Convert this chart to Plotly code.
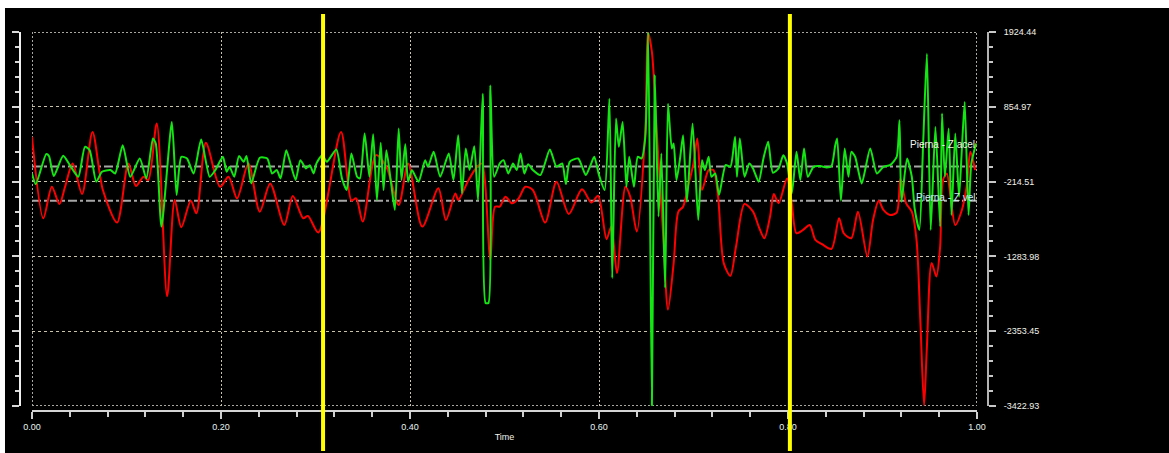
import plotly.graph_objects as go

# Pierna - Z vel (red channel): time and amplitude samples
vel_t = [
    0.000, 0.012, 0.021, 0.029, 0.035, 0.043, 0.053, 0.064, 0.075, 0.090,
    0.102, 0.110, 0.118, 0.123, 0.132, 0.143, 0.151, 0.158, 0.168, 0.174,
    0.184, 0.199, 0.208, 0.217, 0.229, 0.241, 0.252, 0.267, 0.276, 0.287,
    0.292, 0.303, 0.327, 0.338, 0.343, 0.350, 0.364, 0.375, 0.388, 0.398,
    0.413, 0.430, 0.438, 0.448, 0.451, 0.462, 0.471, 0.476, 0.485, 0.490,
    0.495, 0.501, 0.508, 0.515, 0.522, 0.530, 0.543, 0.555, 0.568, 0.582,
    0.592, 0.599, 0.608, 0.613, 0.619, 0.628, 0.633, 0.640, 0.649, 0.652,
    0.656, 0.661, 0.668, 0.673, 0.679, 0.684, 0.689, 0.695, 0.700, 0.704,
    0.709, 0.716, 0.721, 0.726, 0.732, 0.739, 0.745, 0.754, 0.763, 0.769,
    0.775, 0.781, 0.785, 0.790, 0.799, 0.804, 0.809, 0.816, 0.823, 0.829,
    0.836, 0.846, 0.854, 0.859, 0.867, 0.874, 0.884, 0.890, 0.896, 0.901,
    0.908, 0.915, 0.919, 0.925, 0.931, 0.936, 0.940, 0.944, 0.947, 0.952,
    0.957, 0.961, 0.964, 0.968, 0.972, 0.977, 0.984, 0.989, 0.993, 0.998,
]
vel_z = [
    425, -739, -288, -535, -288, 45, -392, 496, -335, -800,
    45, -278, -145, -192, 615, -1855, -478, -867, -487, -668,
    340, -288, -145, -454, 45, -644, -240, -834, -420, -739,
    -705, -943, 496, -487, -454, -786, 164, -3, -549, 45,
    -858, -311, -763, -383, -478, -192, -3, 45, -1333, -573,
    -573, -430, -525, -454, -288, -335, -800, -216, -677, -325,
    -515, -416, -1038, -858, -1522, -288, -430, -929, 520, 1910,
    1636, 520, -1000, -2045, -1380, -644, -573, -240, 45, 401,
    -335, -50, -50, -430, -1380, -1561, -1143, -535, -644, -858,
    -1024, -715, -392, -525, -169, -525, -953, -905, -834, -1048,
    -1109, -1176, -739, -953, -1024, -644, -1285, -763, -487, -620,
    -691, -658, -169, -525, -644, -1048, -2188, -3410, -2568, -1380,
    -1570, -1143, -192, -98, -430, -834, -620, -288, 211, -50,
]

# Pierna - Z acel (green channel): time and amplitude samples
acel_t = [
    0.000, 0.004, 0.015, 0.018, 0.023, 0.033, 0.040, 0.049, 0.056, 0.061,
    0.068, 0.074, 0.083, 0.088, 0.096, 0.104, 0.114, 0.121, 0.128, 0.131,
    0.137, 0.148, 0.153, 0.158, 0.164, 0.171, 0.179, 0.188, 0.194, 0.202,
    0.206, 0.209, 0.214, 0.219, 0.224, 0.227, 0.232, 0.241, 0.249, 0.254,
    0.259, 0.263, 0.269, 0.273, 0.279, 0.284, 0.290, 0.294, 0.298, 0.301,
    0.307, 0.312, 0.322, 0.328, 0.333, 0.338, 0.344, 0.347, 0.352, 0.357,
    0.361, 0.365, 0.369, 0.372, 0.375, 0.380, 0.384, 0.388, 0.391, 0.395,
    0.398, 0.402, 0.409, 0.416, 0.419, 0.425, 0.432, 0.441, 0.446, 0.451,
    0.455, 0.459, 0.463, 0.468, 0.472, 0.477, 0.480, 0.483, 0.485, 0.489,
    0.495, 0.499, 0.504, 0.509, 0.513, 0.517, 0.521, 0.525, 0.530, 0.538,
    0.548, 0.555, 0.561, 0.565, 0.569, 0.578, 0.586, 0.591, 0.595, 0.600,
    0.606, 0.611, 0.614, 0.618, 0.621, 0.625, 0.629, 0.632, 0.637, 0.641,
    0.645, 0.649, 0.652, 0.656, 0.659, 0.663, 0.666, 0.670, 0.673, 0.677,
    0.679, 0.682, 0.686, 0.689, 0.693, 0.699, 0.705, 0.709, 0.712, 0.716,
    0.719, 0.723, 0.727, 0.734, 0.739, 0.744, 0.746, 0.749, 0.754, 0.759,
    0.763, 0.769, 0.774, 0.779, 0.784, 0.790, 0.795, 0.799, 0.804, 0.809,
    0.813, 0.817, 0.821, 0.827, 0.834, 0.841, 0.846, 0.850, 0.852, 0.856,
    0.860, 0.864, 0.867, 0.871, 0.878, 0.887, 0.894, 0.901, 0.908, 0.915,
    0.918, 0.920, 0.926, 0.931, 0.934, 0.939, 0.943, 0.947, 0.951, 0.956,
    0.961, 0.963, 0.966, 0.970, 0.973, 0.977, 0.981, 0.984, 0.987, 0.991,
    0.994, 0.999,
]
acel_z = [
    -98, -250, 178, 150, -136, 154, 21, -145, 282, 235,
    -216, -74, -50, -98, 306, -145, 116, -169, 401, 330,
    -858, 639, -406, 140, 116, -98, 387, -145, -50, 140,
    -74, -3, -145, 150, 69, 150, -240, 126, 116, -98,
    -50, -169, 235, 69, -192, 92, -26, 21, -98, 45,
    164, 69, 244, -169, -335, 188, -145, -169, 473, -145,
    463, -478, 340, -335, 235, -240, -620, 544, -192, 320,
    -216, -50, -216, 92, -3, 211, -145, 188, -192, 449,
    -383, 259, -50, 292, -478, 1043, -1950, -1950, 1161, -145,
    45, 92, -98, 45, -50, 188, -98, 35, -50, -121,
    244, -3, 45, -250, 69, 116, -121, 21, 140, -121,
    -335, 971, -1594, 686, 282, 639, -288, 140, -288, 140,
    116, 425, 1921, -3420, 1304, -715, 188, -1736, 900, 259,
    330, -192, 140, 449, -501, 615, -763, 92, -50, 140,
    -145, -98, -406, 21, -3, 425, -145, 401, -145, 45,
    -26, -216, 116, 354, -88, -26, 164, 45, -383, 211,
    -192, 259, -145, -3, 7, -12, 7, 306, 401, -487,
    259, -145, 211, 140, -240, 259, -98, -3, 21, 140,
    662, -501, 116, -145, -596, -905, 330, 1612, -905, 568,
    -858, 758, -145, 544, -691, 473, -430, 259, 924, -691,
    45, 330,
]

assert len(vel_t) == len(vel_z) and len(acel_t) == len(acel_z)

# Axis scale
y_ticks = [1924.44, 854.97, -214.51, -1283.98, -2353.45, -3422.93]
y_tick_text = ["1924.44", "854.97", "-214.51", "-1283.98", "-2353.45", "-3422.93"]
x_ticks = [0.0, 0.2, 0.4, 0.6, 0.8, 1.0]
x_tick_text = ["0.00", "0.20", "0.40", "0.60", "0.80", "1.00"]

# Cursor positions, channel reference levels and channel captions
cursor_times = [0.308, 0.802]
channel_baselines = [0.0, -487.0]
channel_labels = ["Pierna - Z acel", "Pierna - Z vel"]
channel_label_levels = [323.0, -435.0]
channel_label_colors = ["#f4f4e6", "#cdeefa"]

y_min, y_max = min(y_ticks), max(y_ticks)
minor_step = (y_ticks[0] - y_ticks[1]) / 5.0
FONT = "Liberation Sans, Arial, sans-serif"
TXT = "#f2f2e8"

fig = go.Figure()
fig.add_trace(go.Scatter(
    x=vel_t, y=vel_z, mode="lines", name="Pierna - Z vel",
    line=dict(color="#ff0000", width=2, shape="spline", smoothing=0.8),
    yaxis="y", hoverinfo="skip",
))
fig.add_trace(go.Scatter(
    x=acel_t, y=acel_z, mode="lines", name="Pierna - Z acel",
    line=dict(color="#14e614", width=2, shape="spline", smoothing=0.6),
    yaxis="y2", hoverinfo="skip",
))

shapes = []
# dotted frame of the plotting area
shapes.append(dict(type="rect", xref="x", yref="y", x0=0, x1=1, y0=y_min, y1=y_max,
                   line=dict(color="#a8a8a0", width=2, dash="2px,2px"),
                   fillcolor="rgba(0,0,0,0)", layer="below"))
# reference levels of each channel (grey dash-dot)
for b in channel_baselines:
    shapes.append(dict(type="line", xref="x", yref="y", x0=0, x1=1, y0=b, y1=b,
                       line=dict(color="#a6a6a6", width=2, dash="9px,3px,3px,3px"),
                       layer="below"))
# yellow cursors spanning past the plot area
for c in cursor_times:
    shapes.append(dict(type="line", xref="x", yref="paper", x0=c, x1=c,
                       y0=-0.1055, y1=1.0475,
                       line=dict(color="#ffff00", width=4), layer="above"))
# white border of the window (top and left)
shapes.append(dict(type="rect", xref="paper", yref="paper", x0=-0.1, x1=1.3,
                   y0=1.0633, y1=1.2, fillcolor="#ffffff", line=dict(width=0),
                   layer="above"))
shapes.append(dict(type="rect", xref="paper", yref="paper", x0=-0.1, x1=-0.0155,
                   y0=-0.2, y1=1.2, fillcolor="#ffffff", line=dict(width=0),
                   layer="above"))

annotations = []
for text, lvl, col in zip(channel_labels, channel_label_levels, channel_label_colors):
    annotations.append(dict(x=1.0, y=lvl, xref="x", yref="y", text=text,
                            showarrow=False, xanchor="right", yanchor="middle",
                            font=dict(family=FONT, size=10, color=col)))

fig.update_layout(
    width=1169, height=453, autosize=False,
    margin=dict(l=20, r=181, t=32, b=42, pad=0),
    paper_bgcolor="#000000", plot_bgcolor="#000000",
    showlegend=False,
    font=dict(family=FONT, size=9, color=TXT),
    shapes=shapes, annotations=annotations,
    xaxis=dict(
        domain=[12 / 968, 957 / 968], range=[0, 1], anchor="free", position=0,
        tickmode="array", tickvals=x_ticks, ticktext=x_tick_text,
        ticks="outside", ticklen=7, tickwidth=2, tickcolor="#cfcfcf",
        showline=True, linecolor="#d4d4d4", linewidth=2,
        showgrid=True, gridcolor="#c9c2aa", gridwidth=1, griddash="2px,2px",
        zeroline=False, tickfont=dict(size=9, color="#e6f4f2"),
        title=dict(text="Time", font=dict(size=9, color=TXT), standoff=2),
        minor=dict(tickmode="linear", tick0=0, dtick=0.04, ticks="outside",
                   ticklen=5, tickwidth=1.5, tickcolor="#cfcfcf", showgrid=False),
        fixedrange=True,
    ),
    yaxis=dict(
        domain=[5 / 379, 1], range=[y_min, y_max], anchor="free", position=1,
        side="right",
        tickmode="array", tickvals=y_ticks, ticktext=y_tick_text,
        ticks="outside", ticklen=7, tickwidth=2, tickcolor="#c8c8c8",
        ticklabelstandoff=6,
        showline=True, linecolor="#b4b4b4", linewidth=2,
        showgrid=True, gridcolor="#c9c2aa", gridwidth=1, griddash="3px,3px",
        zeroline=False, tickfont=dict(size=9, color=TXT),
        minor=dict(tickmode="linear", tick0=y_min, dtick=minor_step, ticks="outside",
                   ticklen=4, tickwidth=1.5, tickcolor="#c8c8c8", showgrid=False),
        fixedrange=True,
    ),
    yaxis2=dict(
        overlaying="y", range=[y_min, y_max], anchor="free", position=0,
        side="left", tickmode="array", tickvals=y_ticks, showticklabels=False,
        ticks="outside", ticklen=7, tickwidth=2, tickcolor="#d8d8d8",
        showline=True, linecolor="#f0f0f0", linewidth=2,
        showgrid=False, zeroline=False,
        minor=dict(tickmode="linear", tick0=y_min, dtick=minor_step, ticks="outside",
                   ticklen=4, tickwidth=1.5, tickcolor="#d8d8d8", showgrid=False),
        fixedrange=True,
    ),
)

fig.write_html("out.html", config=dict(displayModeBar=False))
